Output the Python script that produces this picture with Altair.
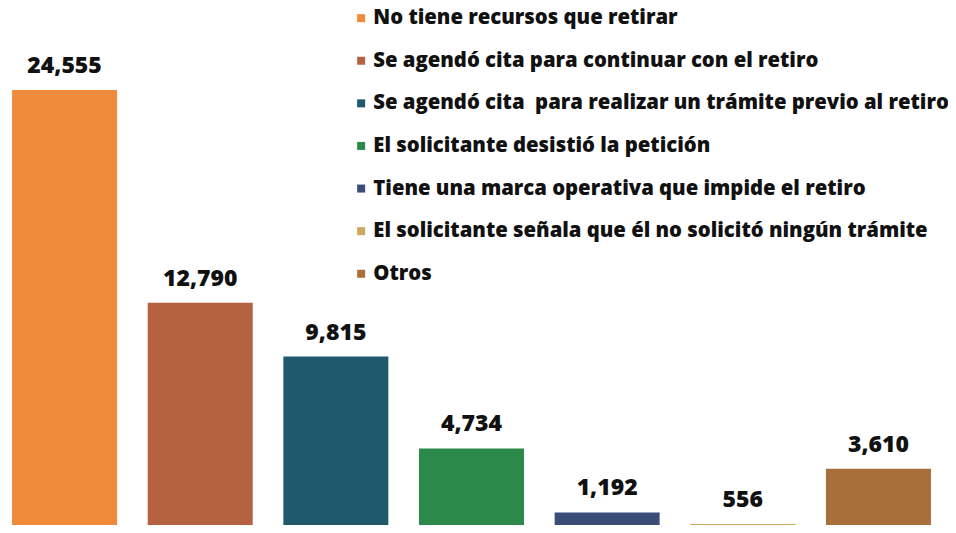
import altair as alt
import pandas as pd

categorias = [
    "No tiene recursos que retirar",
    "Se agendó cita para continuar con el retiro",
    "Se agendó cita\u00a0 para realizar un trámite previo al retiro",
    "El solicitante desistió la petición",
    "Tiene una marca operativa que impide el retiro",
    "El solicitante señala que él no solicitó ningún trámite",
    "Otros",
]
valores = [24555, 12790, 9815, 4734, 1192, 556, 3610]
colores = ["#EE8A3A", "#B4623F", "#1E5A6C", "#2B8A49", "#3C4C78", "#CCA95E", "#A96F3A"]

df = pd.DataFrame({"categoria": categorias, "valor": valores})

FONT = "Open Sans"

xenc = alt.X(
    "categoria:N",
    sort=categorias,
    axis=None,
    scale=alt.Scale(paddingInner=0.226, paddingOuter=0.03),
)
yscale = alt.Scale(domain=[498, 29093], zero=False, nice=False)

base = alt.Chart(df).encode(x=xenc)

bars = base.mark_bar(clip=True).encode(
    y=alt.Y("valor:Q", axis=None, scale=yscale),
    y2=alt.datum(0),
    color=alt.Color(
        "categoria:N",
        sort=categorias,
        scale=alt.Scale(domain=categorias, range=colores),
        legend=alt.Legend(
            title=None,
            orient="none",
            legendX=343,
            legendY=0,
            symbolType="square",
            symbolSize=64,
            symbolStrokeWidth=0,
            labelFont=FONT,
            labelFontSize=20.3,
            labelFontWeight=800,
            labelColor="#111111",
            labelOffset=2,
            labelLimit=800,
            rowPadding=21.6,
        ),
    ),
)

labels = base.mark_text(
    dy=-17,
    baseline="alphabetic",
    align="center",
    font=FONT,
    fontSize=23,
    fontWeight=800,
    color="#111111",
).encode(
    y=alt.Y("valor:Q", scale=yscale),
    text=alt.Text("valor:Q", format=","),
)

chart = (
    alt.layer(bars, labels)
    .properties(
        width=927,
        height=517,
        autosize="none",
        padding={"left": 0, "top": 0, "right": 13, "bottom": 0},
        background="white",
    )
    .configure_view(stroke=None)
)

chart.save("out.html", embed_options={"renderer": "svg", "actions": False})
